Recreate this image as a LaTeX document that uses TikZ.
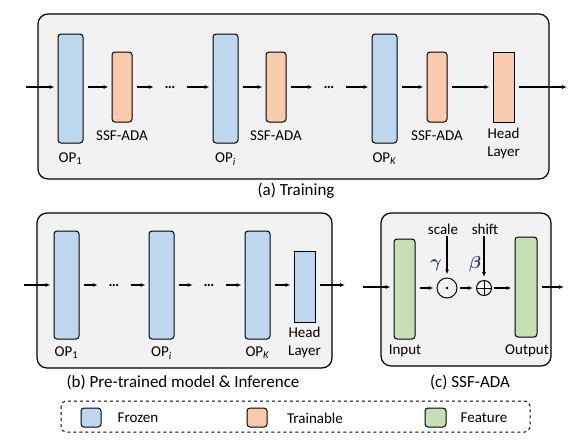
\documentclass[tikz,border=0pt]{standalone}
\usepackage{fontspec}
\setmainfont{Carlito}
\usepackage{amsmath,amssymb}
\usepackage{tikz}
\usetikzlibrary{arrows.meta,positioning,calc}
\definecolor{frozenblue}{RGB}{189,215,238}
\definecolor{trainorange}{RGB}{248,203,173}
\definecolor{featgreen}{RGB}{197,224,180}
\definecolor{panelgray}{RGB}{242,242,242}
\definecolor{greekblue}{RGB}{31,56,110}

\tikzset{
  panel/.style={draw,line width=1.2pt,rounded corners=10pt,fill=panelgray},
  frozen/.style={draw,line width=1pt,rounded corners=3pt,fill=frozenblue,inner sep=0pt,
                 minimum width=25pt,minimum height=109pt},
  trainable/.style={draw,line width=1pt,rounded corners=3pt,fill=trainorange,inner sep=0pt,
                 minimum width=20pt,minimum height=70pt},
  headbox/.style={draw,line width=1pt,fill=trainorange,inner sep=0pt,
                 minimum width=21pt,minimum height=70pt},
  feat/.style={draw,line width=1pt,rounded corners=3pt,fill=featgreen,inner sep=0pt,
                 minimum width=21pt,minimum height=100pt},
  swatch/.style={draw,line width=1pt,rounded corners=3pt,inner sep=0pt,
                 minimum width=20pt,minimum height=19pt},
  flow/.style={->,line width=1.1pt,shorten <=4pt,shorten >=3pt},
  dotsnode/.style={inner sep=0pt,minimum width=26pt,minimum height=10pt,font=\fontsize{15}{18}\selectfont\bfseries},
  lbl/.style={inner sep=0pt,align=center},
  greek/.style={inner sep=0pt,text=greekblue,font=\fontsize{17}{20}\selectfont},
  caption/.style={inner sep=0pt,font=\fontsize{17}{20}\selectfont},
}

\begin{document}
\begin{tikzpicture}[x=1pt,y=-1pt,font=\fontsize{15}{18}\selectfont,>={Latex[length=5pt,width=4pt]}]
  \useasboundingbox (0,0) rectangle (580,445);

  % (a) training
  \draw[panel] (38,14) rectangle (549,179);
  \coordinate (ina) at (26,87);
  \coordinate (outa) at (567,87);
  \node[frozen] (op1a) at (70.5,88.5) {};
  \node[trainable] (ada1) at (122,87) {};
  \node[dotsnode] (dots1a) at (170,87) {…};
  \node[frozen] (opia) at (225.5,88.5) {};
  \node[trainable] (ada2) at (276,87) {};
  \node[dotsnode] (dots2a) at (329,87) {…};
  \node[frozen] (opka) at (384.5,88.5) {};
  \node[trainable] (ada3) at (437,87) {};
  \node[headbox] (heada) at (503.5,87) {};
  \draw[flow,shorten <=0pt] (ina) -- (op1a.west|-ina);
  \draw[flow] (op1a.east|-ina) -- (ada1);
  \draw[flow] (ada1) -- (dots1a);
  \draw[flow] (dots1a) -- (opia.west|-ina);
  \draw[flow] (opia.east|-ina) -- (ada2);
  \draw[flow] (ada2) -- (dots2a);
  \draw[flow] (dots2a) -- (opka.west|-ina);
  \draw[flow] (opka.east|-ina) -- (ada3);
  \draw[flow] (ada3) -- (heada);
  \draw[flow,shorten >=0pt] (heada) -- (outa);
  \node[lbl] (op1al) at (70.5,159) {OP\textsubscript{1}};
  \node[lbl] (opial) at (225.5,159) {OP\textsubscript{\textit{i}}};
  \node[lbl] (opkal) at (384.5,159) {OP\textsubscript{\textit{K}}};
  \node[lbl] (ada1l) at (122,136) {SSF-ADA};
  \node[lbl] (ada2l) at (276,136) {SSF-ADA};
  \node[lbl] (ada3l) at (437,136) {SSF-ADA};
  \node[lbl,anchor=north] (headal) at (503.5,128) {Head\\Layer};
  \node[caption] (capa) at (296,191) {(a) Training};

  % (b) pre-trained model & inference
  \draw[panel] (37,213) rectangle (332,368);
  \coordinate (inb) at (24,285);
  \coordinate (outb) at (345,285);
  \node[frozen,minimum height=108pt] (op1b) at (66.5,285) {};
  \node[dotsnode] (dots1b) at (114,285) {…};
  \node[frozen,minimum height=108pt] (opib) at (161.5,285) {};
  \node[dotsnode] (dots2b) at (209,285) {…};
  \node[frozen,minimum height=108pt] (opkb) at (257.5,285) {};
  \node[headbox,fill=frozenblue,minimum height=71pt] (headb) at (304.5,286.5) {};
  \draw[flow,shorten <=0pt] (inb) -- (op1b.west|-inb);
  \draw[flow] (op1b.east|-inb) -- (dots1b);
  \draw[flow] (dots1b) -- (opib.west|-inb);
  \draw[flow] (opib.east|-inb) -- (dots2b);
  \draw[flow] (dots2b) -- (opkb.west|-inb);
  \draw[flow] (opkb.east|-inb) -- (headb.west|-inb);
  \draw[flow,shorten >=0pt] (headb.east|-inb) -- (outb);
  \node[lbl] (op1bl) at (66.5,353) {OP\textsubscript{1}};
  \node[lbl] (opibl) at (161.5,353) {OP\textsubscript{\textit{i}}};
  \node[lbl] (opkbl) at (257.5,353) {OP\textsubscript{\textit{K}}};
  \node[lbl,anchor=north] (headbl) at (304.5,327) {Head\\Layer};
  \node[caption] (capb) at (183,382) {(b) Pre-trained model \& Inference};

  % (c) SSF-ADA
  \draw[panel] (381,213) rectangle (551,366);
  \coordinate (inc) at (363,287);
  \coordinate (outc) at (564,287);
  \node[feat] (input) at (404.5,289) {};
  \node[circle,draw,line width=1pt,minimum size=20pt,inner sep=0pt] (mul) at (447,288) {};
  \fill (mul.center) circle (1.3);
  \node[circle,draw,line width=1pt,minimum size=15pt,inner sep=0pt] (add) at (484,288) {};
  \draw[line width=1pt] (add.north) -- (add.south) (add.west) -- (add.east);
  \node[feat,minimum width=22pt] (output) at (526,287) {};
  \node[lbl] (scale) at (443,229) {scale};
  \node[lbl] (shift) at (485,229) {shift};
  \node[greek] (gamma) at (436,265) {$\boldsymbol{\gamma}$};
  \node[greek] (beta) at (475,264) {$\boldsymbol{\beta}$};
  \draw[flow,shorten <=0pt] (inc) -- (input.west|-inc);
  \draw[flow] (input.east|-mul) -- (mul);
  \draw[flow,shorten <=2pt] (mul) -- (add);
  \draw[flow,shorten <=2pt] (add) -- (output.west|-add);
  \draw[flow,shorten >=0pt] (output.east|-inc) -- (outc);
  \draw[flow,shorten <=2pt] (scale.south-|mul) -- (mul);
  \draw[flow,shorten <=2pt] (shift.south-|add) -- (add);
  \node[lbl] (inputl) at (405,351) {Input};
  \node[lbl] (outputl) at (527,351) {Output};
  \node[caption] (capc) at (470,382) {(c) SSF-ADA};

  % legend
  \draw[line width=1pt,dashed,rounded corners=5pt] (61,401) rectangle (530,432);
  \node[swatch,fill=frozenblue] (legfrozen) at (91,417.5) {};
  \node[swatch,fill=trainorange] (legtrain) at (257,417.5) {};
  \node[swatch,fill=featgreen,minimum width=21pt] (legfeat) at (435.5,417.5) {};
  \node[lbl] (legfrozenl) at (138,418) {Frozen};
  \node[lbl] (legtrainl) at (315,418) {Trainable};
  \node[lbl] (legfeatl) at (484,418) {Feature};
\end{tikzpicture}
\end{document}
